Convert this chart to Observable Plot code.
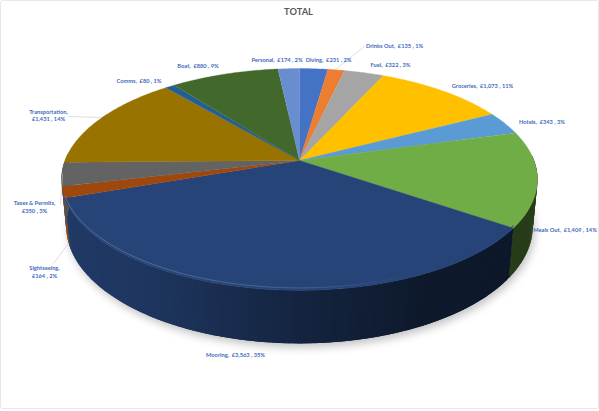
<!DOCTYPE html>
<html><head><meta charset="utf-8">
<style>html,body{margin:0;padding:0;background:#fff}svg{display:block}</style>
<script src="https://cdn.jsdelivr.net/npm/d3@7"></script>
<script src="https://cdn.jsdelivr.net/npm/@observablehq/plot@0.6"></script>
</head><body><script>
const categories = ["Diving","Drinks Out","Fuel","Groceries","Hotels","Meals Out","Mooring","Sightseeing","Taxes & Permits","Transportation","Comms","Boat","Personal"];
const amounts = [231,135,322,1073,343,1409,3563,164,350,1431,80,880,174];
const colors = ["#4472C4","#ED7D31","#A5A5A5","#FFC000","#5B9BD5","#70AD47","#264478","#9E480E","#636363","#997300","#255E91","#43682B","#698ED0"];
const labelX = [328,394,390,482,541.5,564.5,235,44,34,48,138.5,197.5,276.5];
const labelY = [59,44.7,63.7,85,120.7,229,354,271,206,114.5,80,65,59];
const leaders = [
  {x1:335,y1:69,x2:364,y2:46},
  {x1:100,y1:117,x2:68,y2:116},
  {x1:60,y1:204,x2:62,y2:173},
  {x1:53,y1:263,x2:68,y2:243}
];

const W = 599, H = 411;
const total = d3.sum(amounts);
const money = d3.format(",");
const pieLayout = d3.pie().sort(null).value(d => d)(amounts);

// perspective disc: apex at (cx,cy)
const cx = 299, cy = 160, k = 0.171, ax = 234.5, by = 107.7;
const rim = t => {
  const u = Math.sin(t), v = -Math.cos(t), w = 1 - k * v;
  return [cx + ax * u / w, cy + by * v / w];
};
const floor = ([x, y]) => [cx + 0.98 * (x - cx), 205.7 + 1.056 * (y - cy)];
const shade = d3.scaleLinear().domain([66,150,300,420,530]).range([0.85,0.79,0.53,0.37,0.35]).clamp(true);
const dim = (c, f) => { const r = d3.rgb(c); return d3.rgb(r.r*f, r.g*f, r.b*f).formatHex(); };

const faces = [], walls = [], shadow = [], bevel = [];
const step = 0.012;
pieLayout.forEach((s, i) => {
  const n = Math.max(2, Math.ceil((s.endAngle - s.startAngle) / step));
  const ts = d3.range(n + 1).map(j => s.startAngle + (s.endAngle - s.startAngle) * j / n);
  faces.push({id:i, x:cx, y:cy, c:colors[i]});
  ts.forEach(t => { const [x,y] = rim(t); faces.push({id:i, x, y, c:colors[i]}); });
});
// wall bands, drawn from the right side round to the left, each overlapping the next
pieLayout.forEach((s, i) => {
  const n = Math.max(2, Math.ceil((s.endAngle - s.startAngle) / step));
  const ts = d3.range(n + 1).map(j => s.startAngle + (s.endAngle - s.startAngle) * j / n);
  for (let j = 0; j < n; j++) {
    const a = rim(ts[j]), b = rim(ts[j+1]);
    if (-Math.cos(ts[j]) < -0.05 && -Math.cos(ts[j+1]) < -0.05) continue;
    const fa = floor(a), id = `${i}-${j}`;
    const c = dim(colors[i], shade((a[0]+b[0])/2));
    const over = j < n - 1 ? rim(ts[j+1] + step * 1.2) : b;
    const fo = floor(over);
    for (const p of [a,over,fo,fa]) walls.push({id, x:p[0], y:p[1], c});
    if (categories[i] === "Mooring") {
      const o = d3.scaleLinear().domain([66,300,420]).range([0.24,0.16,0]).clamp(true)((a[0]+b[0])/2);
      bevel.push({x1:a[0], y1:a[1]-2.5, x2:b[0], y2:b[1]-2.5, c:d3.interpolateRgb(colors[i],"#ffffff")(o)});
    }
  }
});
d3.range(0, 2*Math.PI, 0.03).forEach(t => { const [x,y] = floor(rim(t)); shadow.push({x:x+2, y:y+4}); });

const labels = categories.map((c, i) => {
  const pct = Math.round(amounts[i]/total*100), m = `£${money(amounts[i])} , ${pct}%`;
  const wrap = ["Sightseeing","Taxes & Permits","Transportation"].includes(c);
  return {t: wrap ? `${c},\n${m}` : `${c},  ${m}`, x: labelX[i], y: labelY[i]};
});

const blur = r => (i, s, v, d, ctx, next) => { const g = next(i, s, v, d, ctx); g.style.filter = `blur(${r}px)`; return g; };

const chart = Plot.plot({
  width: W, height: H, margin: 0,
  x: {domain:[0,W], range:[0,W], axis:null},
  y: {domain:[0,H], range:[0,H], axis:null},
  style: {background:"#fff"},
  marks: [
    Plot.line(shadow, {x:"x", y:"y", fill:"#000", fillOpacity:0.24, stroke:"none", render: blur(4)}),
    Plot.line(walls, {x:"x", y:"y", z:"id", fill:"c", stroke:"none"}),
    Plot.line(faces, {x:"x", y:"y", z:"id", fill:"c", stroke:"c", strokeWidth:0.3}),
    Plot.link(bevel, {x1:"x1", y1:"y1", x2:"x2", y2:"y2", stroke:"c", strokeWidth:1}),
    Plot.link(leaders, {x1:"x1", y1:"y1", x2:"x2", y2:"y2", stroke:"#c8c8c8", strokeWidth:0.6}),
    Plot.text(labels, {x:"x", y:"y", text:"t", fill:"#3F6BBE", fontFamily:"Lato", fontWeight:"bold", fontSize:5.7, lineHeight:1.38, textAnchor:"middle"}),
    Plot.text(["TOTAL"], {x:[298], y:[12], text:d=>d, fill:"#595959", fontFamily:"Lato", fontWeight:"bold", fontSize:9.3}),
    Plot.rect([0], {x1:[0.5], x2:[W-0.5], y1:[0.5], y2:[H-2.5], fill:"none", stroke:"#e8e8e8", strokeWidth:1, rx:2})
  ]
});
document.body.appendChild(chart);
</script></body></html>
